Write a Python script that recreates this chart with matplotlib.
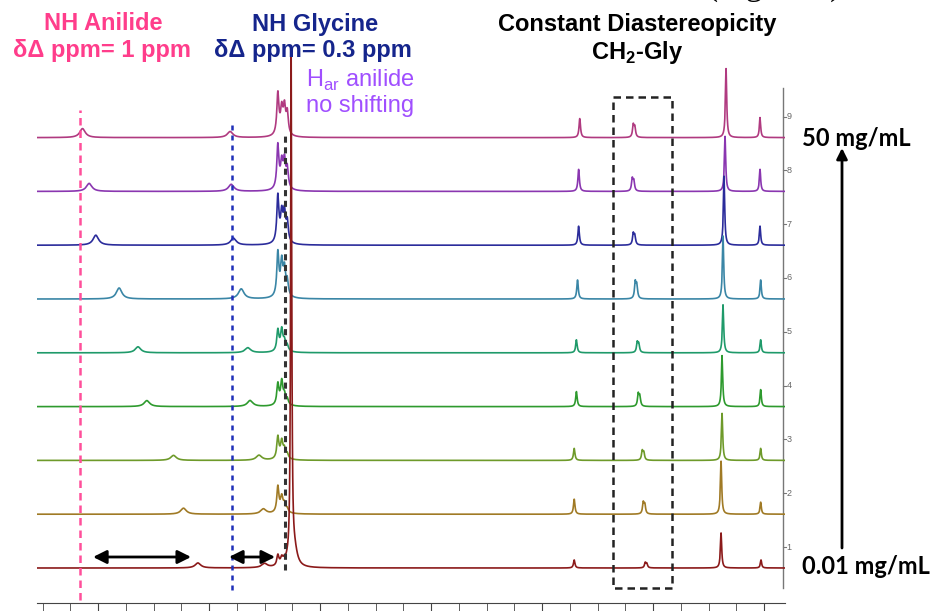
import numpy as np
import matplotlib
matplotlib.use('Agg')
import matplotlib.pyplot as plt
from matplotlib.patches import Rectangle

plt.rcParams['font.family'] = ['Liberation Sans', 'DejaVu Sans']

# ---- data (ppm positions / peak heights), trace 1 = 0.01 mg/mL ... trace 9 = 50 mg/mL
trace_ids = [1, 2, 3, 4, 5, 6, 7, 8, 9]
trace_colors = ['#8b1a1a', '#a07a25', '#6e9a2a', '#2e9a2e', '#1f9a6a',
                '#3a86a6', '#2b2c9b', '#8a36b0', '#b03a80']

nh_anilide_ppm = [8.10, 8.23, 8.32, 8.56, 8.64, 8.81, 9.02, 9.08, 9.14]
nh_anilide_h = [5, 6, 5, 6, 6, 11, 10, 8, 9]

nh_gly_ppm = [7.50, 7.51, 7.55, 7.63, 7.65, 7.71, 7.78, 7.80, 7.81]
nh_gly_h = [4, 5, 5, 6, 5, 10, 7, 7, 6]

ar_ppm = [7.38, 7.345, 7.32, 7.295]
ar_h = [[10, 5, 3, 2],
        [25, 11, 6, 3],
        [21, 13, 7, 4],
        [20, 19, 7, 5],
        [20, 17, 7, 5],
        [42, 27, 22, 14],
        [45, 22, 25, 19],
        [42, 19, 23, 19],
        [40, 19, 23, 21]]
ar_base_h = [3, 6, 6, 6, 6, 9, 9, 9, 9]

chcl3_ppm = 7.26
chcl3_h = [506, 0, 0, 0, 0, 0, 0, 0, 0]

p468_ppm = [4.71, 4.71, 4.71, 4.69, 4.69, 4.68, 4.67, 4.67, 4.66]
p468_h = [8, 15, 12, 15, 13, 19, 19, 22, 19]

ch2_gly_ppm = [4.063, 4.081, 4.090, 4.126, 4.135, 4.153, 4.171, 4.180, 4.171]
ch2_gly_h = [5, 11, 9, 12, 10, 16, 11, 12, 12]

p335_ppm = [3.387, 3.387, 3.378, 3.378, 3.369, 3.369, 3.360, 3.351, 3.342]
p335_h = [35, 53, 47, 51, 48, 63, 69, 55, 69]

p303_ppm = [3.027, 3.03, 3.03, 3.03, 3.03, 3.03, 3.036, 3.036, 3.036]
p303_h = [8, 12, 12, 17, 13, 19, 19, 22, 20]

conc_low = '0.01 mg/mL'
conc_high = '50 mg/mL'

# ---- line shapes
ppm = np.arange(2.80, 9.56, 0.0005)


def lorentz(x0, h, w):
    return h * w**2 / ((ppm - x0)**2 + w**2)


offset = 53.8

fig = plt.figure(figsize=(9.31, 6.11), dpi=100)
ax = fig.add_axes([37 / 931, 8 / 611, 748 / 931, 548 / 611])
ax.set_xlim(9.55, 2.811)
ax.set_ylim(-35, 513)

for i in range(8, -1, -1):
    y = lorentz(nh_anilide_ppm[i], nh_anilide_h[i], 0.03)
    y += lorentz(nh_gly_ppm[i], nh_gly_h[i], 0.03)
    for p, h in zip(ar_ppm, ar_h[i]):
        y += lorentz(p, h, 0.011)
    y += lorentz(7.34, ar_base_h[i], 0.035)
    y += lorentz(chcl3_ppm, chcl3_h[i], 0.006)
    y += lorentz(chcl3_ppm - 0.03, chcl3_h[i] * 0.03, 0.03)
    y += lorentz(p468_ppm[i], p468_h[i], 0.008)
    y += lorentz(ch2_gly_ppm[i] + 0.007, ch2_gly_h[i], 0.008)
    y += lorentz(ch2_gly_ppm[i] - 0.007, ch2_gly_h[i] * 0.8, 0.008)
    y += lorentz(p335_ppm[i], p335_h[i], 0.007)
    y += lorentz(p303_ppm[i], p303_h[i], 0.007)
    ax.plot(ppm, y + i * offset, color=trace_colors[i], lw=1.2, zorder=3)

# guide lines
ax.plot([9.162, 9.162], [-32, 458], ls=(0, (3, 2)), color='#ff4f9a', lw=1.8,
        zorder=4, clip_on=False)
ax.plot([7.793, 7.793], [-22, 445], ls=(0, (2, 2)), color='#1f2fb8', lw=1.8,
        zorder=4, clip_on=False)
ax.plot([7.315, 7.315], [-2, 433], ls=(0, (2, 1.5)), color='#333333', lw=2.2,
        zorder=4)
ax.add_patch(Rectangle((3.829, -20), 0.531, 491, fill=False, ls=(0, (3, 2)),
                       lw=1.8, ec='#222222', zorder=4))

# double arrows for the shifts
for x0, x1 in [(9.045, 8.162), (7.82, 7.405)]:
    ax.annotate('', xy=(x0, 11), xytext=(x1, 11),
                arrowprops=dict(arrowstyle='<|-|>', color='black', lw=2,
                                mutation_scale=20, shrinkA=0, shrinkB=0),
                zorder=5)

# right-hand stack axis
xr = 2.829
ax.plot([xr, xr], [-20, 480], color='#777777', lw=1, clip_on=False)
for k, t in enumerate(trace_ids):
    yt = k * offset + 21
    ax.plot([xr, xr - 0.025], [yt, yt], color='#777777', lw=0.8, clip_on=False)
    ax.text(xr - 0.03, yt, str(t), fontsize=6.5, color='#666666',
            ha='left', va='center', clip_on=False)

# bottom ppm axis (no labels)
for s in ['left', 'right', 'top']:
    ax.spines[s].set_visible(False)
ax.spines['bottom'].set_color('#444444')
ax.set_yticks([])
ax.set_xticks(np.arange(3, 10, 1.0))
ax.set_xticks(np.arange(3.0, 9.6, 0.25), minor=True)
ax.tick_params(axis='x', which='major', length=10, color='#444444', labelbottom=False)
ax.tick_params(axis='x', which='minor', length=6, color='#444444')

# concentration arrow
ax.annotate('', xy=(842 / 931, 1 - 148 / 611), xytext=(842 / 931, 1 - 548 / 611),
            xycoords='figure fraction', textcoords='figure fraction',
            arrowprops=dict(arrowstyle='-|>', color='black', lw=2,
                            mutation_scale=16, shrinkA=0, shrinkB=0))
fig.text(802 / 931, 1 - 139 / 611, conc_high, family=['Lato', 'DejaVu Sans'],
         fontweight='bold', fontsize=17, ha='left', va='center')
fig.text(802 / 931, 1 - 566 / 611, conc_low, family=['Lato', 'DejaVu Sans'],
         fontweight='bold', fontsize=17, ha='left', va='center')

# annotations
pink = '#ff3d8b'
navy = '#15258c'
purple = '#a04fff'
fig.text(103 / 931, 1 - 24 / 611, 'NH Anilide', color=pink, fontsize=17,
         fontweight='bold', ha='center', va='center')
fig.text(102 / 931, 1 - 51 / 611, 'δΔ ppm= 1 ppm', color=pink, fontsize=17,
         fontweight='bold', ha='center', va='center')
fig.text(315 / 931, 1 - 24 / 611, 'NH Glycine', color=navy, fontsize=17,
         fontweight='bold', ha='center', va='center')
fig.text(313 / 931, 1 - 50 / 611, 'δΔ ppm= 0.3 ppm', color=navy, fontsize=17,
         fontweight='bold', ha='center', va='center')
fig.text(306 / 931, 1 - 80 / 611, r'H$_{\mathregular{ar}}$ anilide', color=purple,
         fontsize=17, ha='left', va='center')
fig.text(306 / 931, 1 - 106 / 611, 'no shifting', color=purple, fontsize=17,
         ha='left', va='center')
fig.text(637 / 931, 1 - 24 / 611, 'Constant Diastereopicity', color='black',
         fontsize=17, fontweight='bold', ha='center', va='center')
fig.text(637 / 931, 1 - 53 / 611, r'CH$_{\mathregular{2}}$-Gly', color='black',
         fontsize=17, fontweight='bold', ha='center', va='center')

# caption cut off at the very top (only its descenders show)
fig.text(707 / 931, 1 + 5 / 611, '(Figure 2)', family=['Liberation Serif', 'DejaVu Serif'],
         fontsize=24, ha='left', va='baseline')

fig.savefig('out.png', dpi=100)
